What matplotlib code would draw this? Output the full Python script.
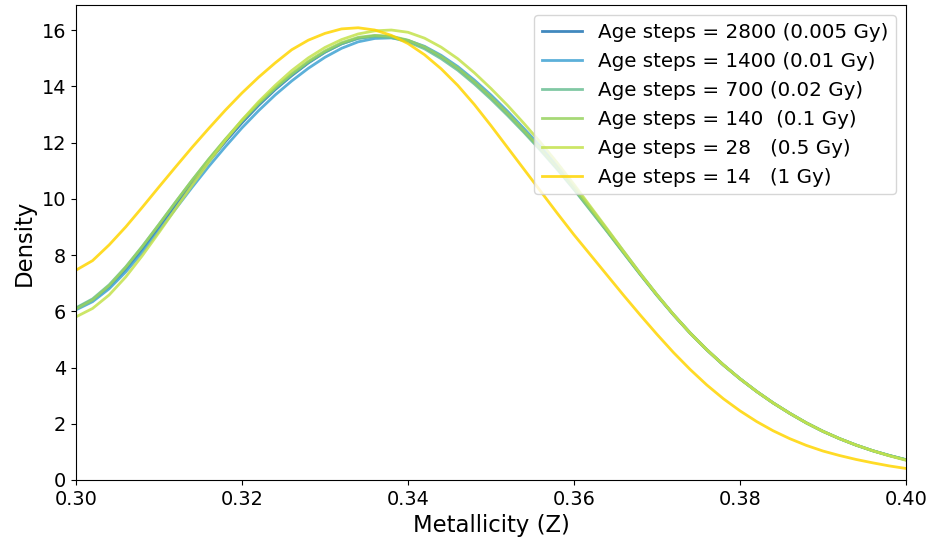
import numpy as np
import matplotlib
matplotlib.use("Agg")
import matplotlib.pyplot as plt

# metallicity grid (step 0.002)
z = np.linspace(0.30, 0.40, 51)

d2800 = [6.10, 6.40, 6.88, 7.50, 8.22, 9.00, 9.79, 10.57, 11.32, 12.03,
         12.70, 13.32, 13.88, 14.38, 14.83, 15.21, 15.51, 15.71, 15.79, 15.76,
         15.62, 15.38, 15.04, 14.63, 14.14, 13.60, 13.02, 12.40, 11.76, 11.08,
         10.36, 9.61, 8.85, 8.08, 7.31, 6.57, 5.87, 5.22, 4.63, 4.09,
         3.60, 3.15, 2.74, 2.37, 2.03, 1.73, 1.47, 1.24, 1.04, 0.87, 0.72]
d1400 = [6.05, 6.34, 6.80, 7.40, 8.10, 8.86, 9.64, 10.41, 11.15, 11.85,
         12.52, 13.13, 13.69, 14.19, 14.64, 15.03, 15.35, 15.58, 15.70, 15.72,
         15.63, 15.42, 15.10, 14.70, 14.22, 13.69, 13.11, 12.49, 11.85, 11.16,
         10.43, 9.67, 8.90, 8.12, 7.34, 6.59, 5.88, 5.23, 4.63, 4.09,
         3.60, 3.15, 2.74, 2.37, 2.03, 1.73, 1.47, 1.24, 1.04, 0.87, 0.72]
d700 = [6.12, 6.44, 6.94, 7.58, 8.31, 9.09, 9.88, 10.66, 11.40, 12.10,
        12.76, 13.37, 13.92, 14.41, 14.85, 15.22, 15.51, 15.70, 15.77, 15.73,
        15.58, 15.33, 14.98, 14.57, 14.08, 13.54, 12.96, 12.35, 11.71, 11.04,
        10.33, 9.58, 8.83, 8.06, 7.30, 6.56, 5.87, 5.22, 4.63, 4.09,
        3.60, 3.15, 2.74, 2.37, 2.03, 1.73, 1.47, 1.24, 1.04, 0.87, 0.72]
d140 = [6.08, 6.40, 6.91, 7.56, 8.30, 9.08, 9.88, 10.66, 11.41, 12.12,
        12.79, 13.40, 13.95, 14.45, 14.89, 15.26, 15.55, 15.74, 15.81, 15.78,
        15.64, 15.40, 15.06, 14.65, 14.16, 13.62, 13.04, 12.42, 11.78, 11.10,
        10.38, 9.63, 8.86, 8.09, 7.32, 6.58, 5.88, 5.23, 4.64, 4.10,
        3.60, 3.15, 2.74, 2.37, 2.03, 1.73, 1.47, 1.24, 1.04, 0.87, 0.72]
d28 = [5.80, 6.10, 6.58, 7.22, 7.98, 8.80, 9.64, 10.48, 11.30, 12.08,
       12.80, 13.45, 14.03, 14.56, 15.01, 15.38, 15.66, 15.86, 15.97, 16.00,
       15.92, 15.71, 15.39, 14.98, 14.48, 13.92, 13.32, 12.67, 11.99, 11.27,
       10.51, 9.72, 8.93, 8.13, 7.34, 6.59, 5.88, 5.22, 4.63, 4.09,
       3.60, 3.15, 2.74, 2.37, 2.03, 1.73, 1.47, 1.24, 1.04, 0.86, 0.70]
d14 = [7.46, 7.80, 8.36, 9.00, 9.70, 10.42, 11.13, 11.83, 12.50, 13.15,
       13.76, 14.32, 14.83, 15.30, 15.64, 15.88, 16.04, 16.08, 16.00, 15.81,
       15.52, 15.12, 14.62, 14.03, 13.35, 12.60, 11.82, 11.04, 10.26, 9.48,
       8.72, 8.00, 7.28, 6.56, 5.86, 5.18, 4.53, 3.93, 3.38, 2.89,
       2.46, 2.08, 1.75, 1.47, 1.23, 1.03, 0.87, 0.73, 0.61, 0.50, 0.41]

labels = ["Age steps = 2800 (0.005 Gy)", "Age steps = 1400 (0.01 Gy)",
          "Age steps = 700 (0.02 Gy)", "Age steps = 140  (0.1 Gy)",
          "Age steps = 28   (0.5 Gy)", "Age steps = 14   (1 Gy)"]
series = [d2800, d1400, d700, d140, d28, d14]
colors = ["#1f74b3", "#3fa2d3", "#6bbf94", "#98d35f", "#c4e24c", "#ffd500"]

fig = plt.figure(figsize=(9.31, 5.42), dpi=100)
ax = fig.add_axes([0.0816, 0.1144, 0.8915, 0.8764])
for d, c, l in zip(series, colors, labels):
    ax.plot(z, d, color=c, lw=2.0, alpha=0.85, label=l,
            solid_joinstyle="round")

ax.set_xlim(0.30, 0.40)
ax.set_ylim(0, 16.89)
ax.set_xticks([0.30, 0.32, 0.34, 0.36, 0.38, 0.40])
ax.set_yticks([0, 2, 4, 6, 8, 10, 12, 14, 16])
ax.tick_params(labelsize=13.9)
ax.set_xlabel("Metallicity (Z)", fontsize=16.4)
ax.set_ylabel("Density", fontsize=16.4)
ax.legend(loc="upper right", fontsize=14.3)
fig.savefig("out.png", dpi=100)
